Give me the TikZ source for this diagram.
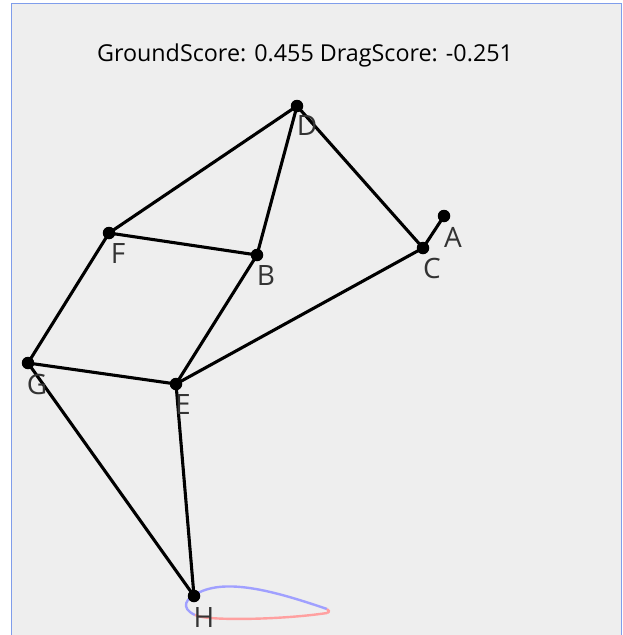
\documentclass[tikz,border=0pt]{standalone}
\usepackage{fontspec}
\setmainfont{Open Sans}
\definecolor{panel}{HTML}{EEEEEE}
\definecolor{frame}{HTML}{7F9DEB}
\definecolor{lblue}{HTML}{A0A0FF}
\definecolor{lred}{HTML}{FFA0A0}
\begin{document}
\begin{tikzpicture}[x=1pt,y=-1pt,
  vert/.style={circle,fill=black,inner sep=0pt,minimum size=12.5pt},
  edge/.style={line width=3.1pt,black},
  lbl/.style={anchor=center,inner sep=0pt,font=\fontsize{28}{28}\selectfont,text=black!80}]
\useasboundingbox (0,0) rectangle (623,635);
\fill[white] (0,0) rectangle (623,635);
\fill[panel] (11.5,3.5) rectangle (621,635);
\draw[frame,line width=1pt] (11.5,635) -- (11.5,3.5) -- (621,3.5) -- (621,635);
\node[font=\fontsize{23.3}{23.3}\selectfont,anchor=base] (title) at (305,61) {GroundScore: 0.455 DragScore: -0.251};
% airfoil loop
\draw[lblue,line width=2.4pt] (195,615) .. controls (180,608) and (185,598) .. (200,592) .. controls (230,578) and (280,593) .. (327,609);
\draw[lred,line width=2.4pt] (195,615) .. controls (205,621) and (280,620) .. (327,613);
\draw[lred,line width=2.4pt] (327,613) .. controls (330,612) and (329,610) .. (327,609);
\coordinate (D) at (297,106);
\coordinate (F) at (109,233);
\coordinate (B) at (257,255);
\coordinate (C) at (423,248);
\coordinate (A) at (444,216);
\coordinate (G) at (28,363);
\coordinate (E) at (176,384);
\coordinate (H) at (194,596);
\draw[edge] (D) -- (F);
\draw[edge] (D) -- (B);
\draw[edge] (D) -- (C);
\draw[edge] (F) -- (B);
\draw[edge] (F) -- (G);
\draw[edge] (B) -- (E);
\draw[edge] (C) -- (A);
\draw[edge] (C) -- (E);
\draw[edge] (G) -- (E);
\draw[edge] (G) -- (H);
\draw[edge] (E) -- (H);
\foreach \n in {D,F,B,C,A,G,E,H}{
  \node[vert] (v\n) at (\n) {};
}
\node[lbl] (tD) at (307,126) {D};
\node[lbl] (tF) at (118,254) {F};
\node[lbl] (tB) at (266,276) {B};
\node[lbl] (tC) at (432,268) {C};
\node[lbl] (tA) at (453,237) {A};
\node[lbl] (tG) at (37,384) {G};
\node[lbl] (tE) at (183,405) {E};
\node[lbl] (tH) at (204,617) {H};
\end{tikzpicture}
\end{document}
